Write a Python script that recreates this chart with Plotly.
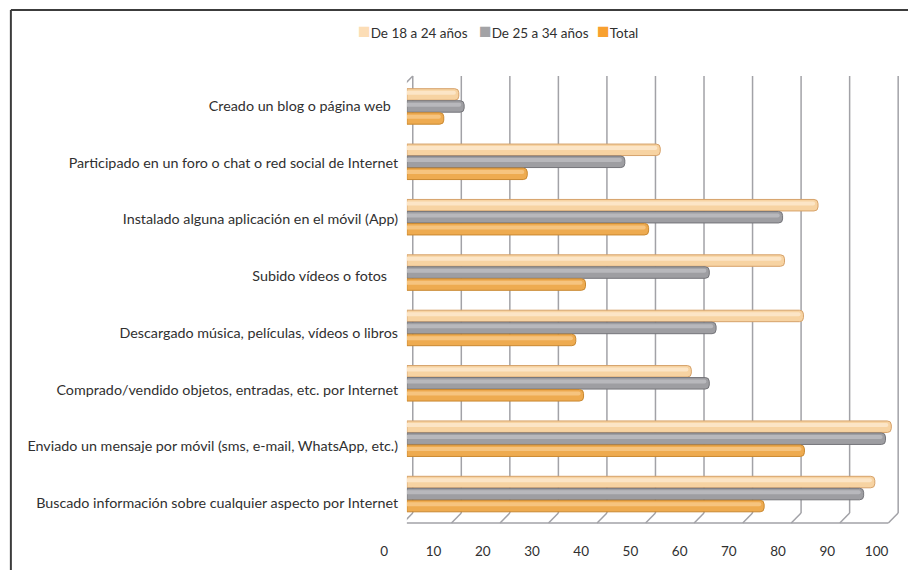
import plotly.graph_objects as go

# ---- data -------------------------------------------------------------
categories = [
    "Creado un blog o página web\u00a0\u00a0",
    "Participado en un foro o chat o red social de Internet",
    "Instalado alguna aplicación en el móvil (App)",
    "Subido vídeos o fotos\u00a0\u00a0\u00a0",
    "Descargado música, películas, vídeos o libros",
    "Comprado/vendido objetos, entradas, etc. por Internet",
    "Enviado un mensaje por móvil (sms, e-mail, WhatsApp, etc.)",
    "Buscado información sobre cualquier aspecto por Internet",
]
age_18_24 = [10.7, 52.2, 84.7, 77.8, 81.7, 58.6, 99.8, 96.4]
age_25_34 = [11.8, 44.9, 77.4, 62.3, 63.7, 62.3, 98.6, 94.1]
total = [7.6, 24.8, 49.8, 36.8, 34.8, 36.4, 81.9, 73.6]
series_names = ["De 18 a 24 años", "De 25 a 34 años", "Total"]
x_ticks = list(range(0, 101, 10))

# ---- styling ----------------------------------------------------------
W, H = 920, 570
FONT = "Lato"
TEXT_COLOR = "#303030"
FONT_SIZE = 13.5
LABEL_SIZE = 14.3

fills = ["#F7D3A2", "#9E9EA2", "#EEAB50"]
edges = ["#D6A26A", "#75757A", "#C98830"]
shines = ["#FCE5C6", "#B8B8BC", "#F6C47F"]
key_colors = ["#FCDDB6", "#A3A3A6", "#F8A030"]
GRID = "#A2A2A7"


def fx(p):
    return p / W


def fy(p):
    return (H - p) / H


# bar plane: value 0 sits at x=410px, 4.94px per unit
X0, PPU, XEND = 410, 4.94, 915
BAR_TOP, BAR_BOTTOM = 79, 522
band = (BAR_BOTTOM - BAR_TOP) / len(categories)

# back wall / floor of the box
BACK_SHIFT = 6 / PPU          # back wall is 6px right of the bar origin
DEPTH = 10                    # px of depth between back wall and front edge
WALL_TOP, WALL_BOTTOM = 76, 513

fig = go.Figure()

series = [age_18_24, age_25_34, total]
bar_h = 12
offsets_px = [-18, -6, 6]
for i, vals in enumerate(series):
    fig.add_trace(go.Bar(
        x=vals, y=categories, orientation="h", name=series_names[i],
        offset=offsets_px[i] / band, width=(bar_h - 0.5) / band,
        marker=dict(color=fills[i], line=dict(color=edges[i], width=1),
                    cornerradius=4),
        showlegend=False, hoverinfo="x+name",
    ))
    # lighter band on the upper part of each bar for a rounded look
    fig.add_trace(go.Bar(
        x=[v - 0.6 for v in vals], y=categories, orientation="h",
        offset=(offsets_px[i] + 2) / band, width=4 / band,
        marker=dict(color=shines[i], line=dict(width=0), cornerradius=2),
        showlegend=False, hoverinfo="skip",
    ))

# invisible carrier for the label axes
fig.add_trace(go.Scatter(
    x=[0] * len(categories), y=categories, xaxis="x2", yaxis="y2",
    mode="markers", marker=dict(opacity=0), showlegend=False,
    hoverinfo="skip",
))

shapes = []
line_style = dict(color=GRID, width=1.5)
front = -DEPTH / PPU
for v in x_ticks:
    xb = v + BACK_SHIFT
    shapes.append(dict(type="line", xref="x", yref="paper",
                       x0=xb, x1=xb, y0=fy(WALL_TOP), y1=fy(WALL_BOTTOM),
                       line=line_style, layer="below"))
    shapes.append(dict(type="line", xref="x", yref="paper",
                       x0=xb, x1=xb + front, y0=fy(WALL_BOTTOM),
                       y1=fy(WALL_BOTTOM + DEPTH),
                       line=line_style, layer="below"))
# front floor edge
shapes.append(dict(type="line", xref="x", yref="paper",
                   x0=x_ticks[0] + BACK_SHIFT + front,
                   x1=x_ticks[-1] + BACK_SHIFT + front,
                   y0=fy(WALL_BOTTOM + DEPTH), y1=fy(WALL_BOTTOM + DEPTH),
                   line=line_style, layer="below"))
# left side wall
xl = x_ticks[0] + BACK_SHIFT + front
shapes.append(dict(type="line", xref="x", yref="paper",
                   x0=xl, x1=xl, y0=fy(WALL_TOP + DEPTH),
                   y1=fy(WALL_BOTTOM + DEPTH), line=line_style, layer="below"))
shapes.append(dict(type="line", xref="x", yref="paper",
                   x0=xl, x1=x_ticks[0] + BACK_SHIFT, y0=fy(WALL_TOP + DEPTH),
                   y1=fy(WALL_TOP), line=line_style, layer="below"))
# chart border
border = dict(color="#3C3C3C", width=2)
shapes.append(dict(type="line", xref="paper", yref="paper",
                   x0=fx(7), x1=fx(7), y0=fy(10), y1=0, line=border))
shapes.append(dict(type="line", xref="paper", yref="paper",
                   x0=fx(7), x1=1, y0=fy(10), y1=fy(10), line=border))

# legend row
key_x = [358, 481, 601]
annotations = []
for i, name in enumerate(series_names):
    annotations.append(dict(
        xref="paper", yref="paper", x=fx(key_x[i]), y=fy(29),
        xanchor="left", yanchor="middle", showarrow=False,
        text=(f'<span style="color:{key_colors[i]};font-size:21px">■</span>'
              f'{name}'),
        font=dict(family=FONT, size=FONT_SIZE, color=TEXT_COLOR),
    ))

fig.update_layout(
    width=W, height=H, autosize=False,
    margin=dict(l=0, r=0, t=0, b=0),
    paper_bgcolor="white", plot_bgcolor="rgba(0,0,0,0)",
    barmode="overlay",
    font=dict(family=FONT, size=FONT_SIZE, color=TEXT_COLOR),
    xaxis=dict(domain=[fx(X0), fx(XEND)], range=[0, (XEND - X0) / PPU],
               visible=False, fixedrange=True),
    yaxis=dict(domain=[fy(BAR_BOTTOM), fy(BAR_TOP)], type="category",
               categoryorder="array", categoryarray=categories,
               range=[len(categories) - 0.5, -0.5], visible=False,
               fixedrange=True),
    xaxis2=dict(domain=[fx(387), fx(888)], range=[0, 100], anchor="free",
                position=fy(541), tickvals=x_ticks, ticks="",
                showgrid=False, zeroline=False, showline=False,
                tickfont=dict(family=FONT, size=FONT_SIZE, color=TEXT_COLOR),
                fixedrange=True),
    yaxis2=dict(domain=[fy(531.3), fy(77.65)], type="category",
                categoryorder="array", categoryarray=categories,
                range=[len(categories) - 0.5, -0.5], anchor="free",
                position=fx(401), ticks="", showgrid=False, zeroline=False,
                showline=False,
                tickfont=dict(family=FONT, size=LABEL_SIZE, color=TEXT_COLOR),
                fixedrange=True),
    shapes=shapes,
    annotations=annotations,
)

fig.write_html("out.html", config={"displayModeBar": False})
